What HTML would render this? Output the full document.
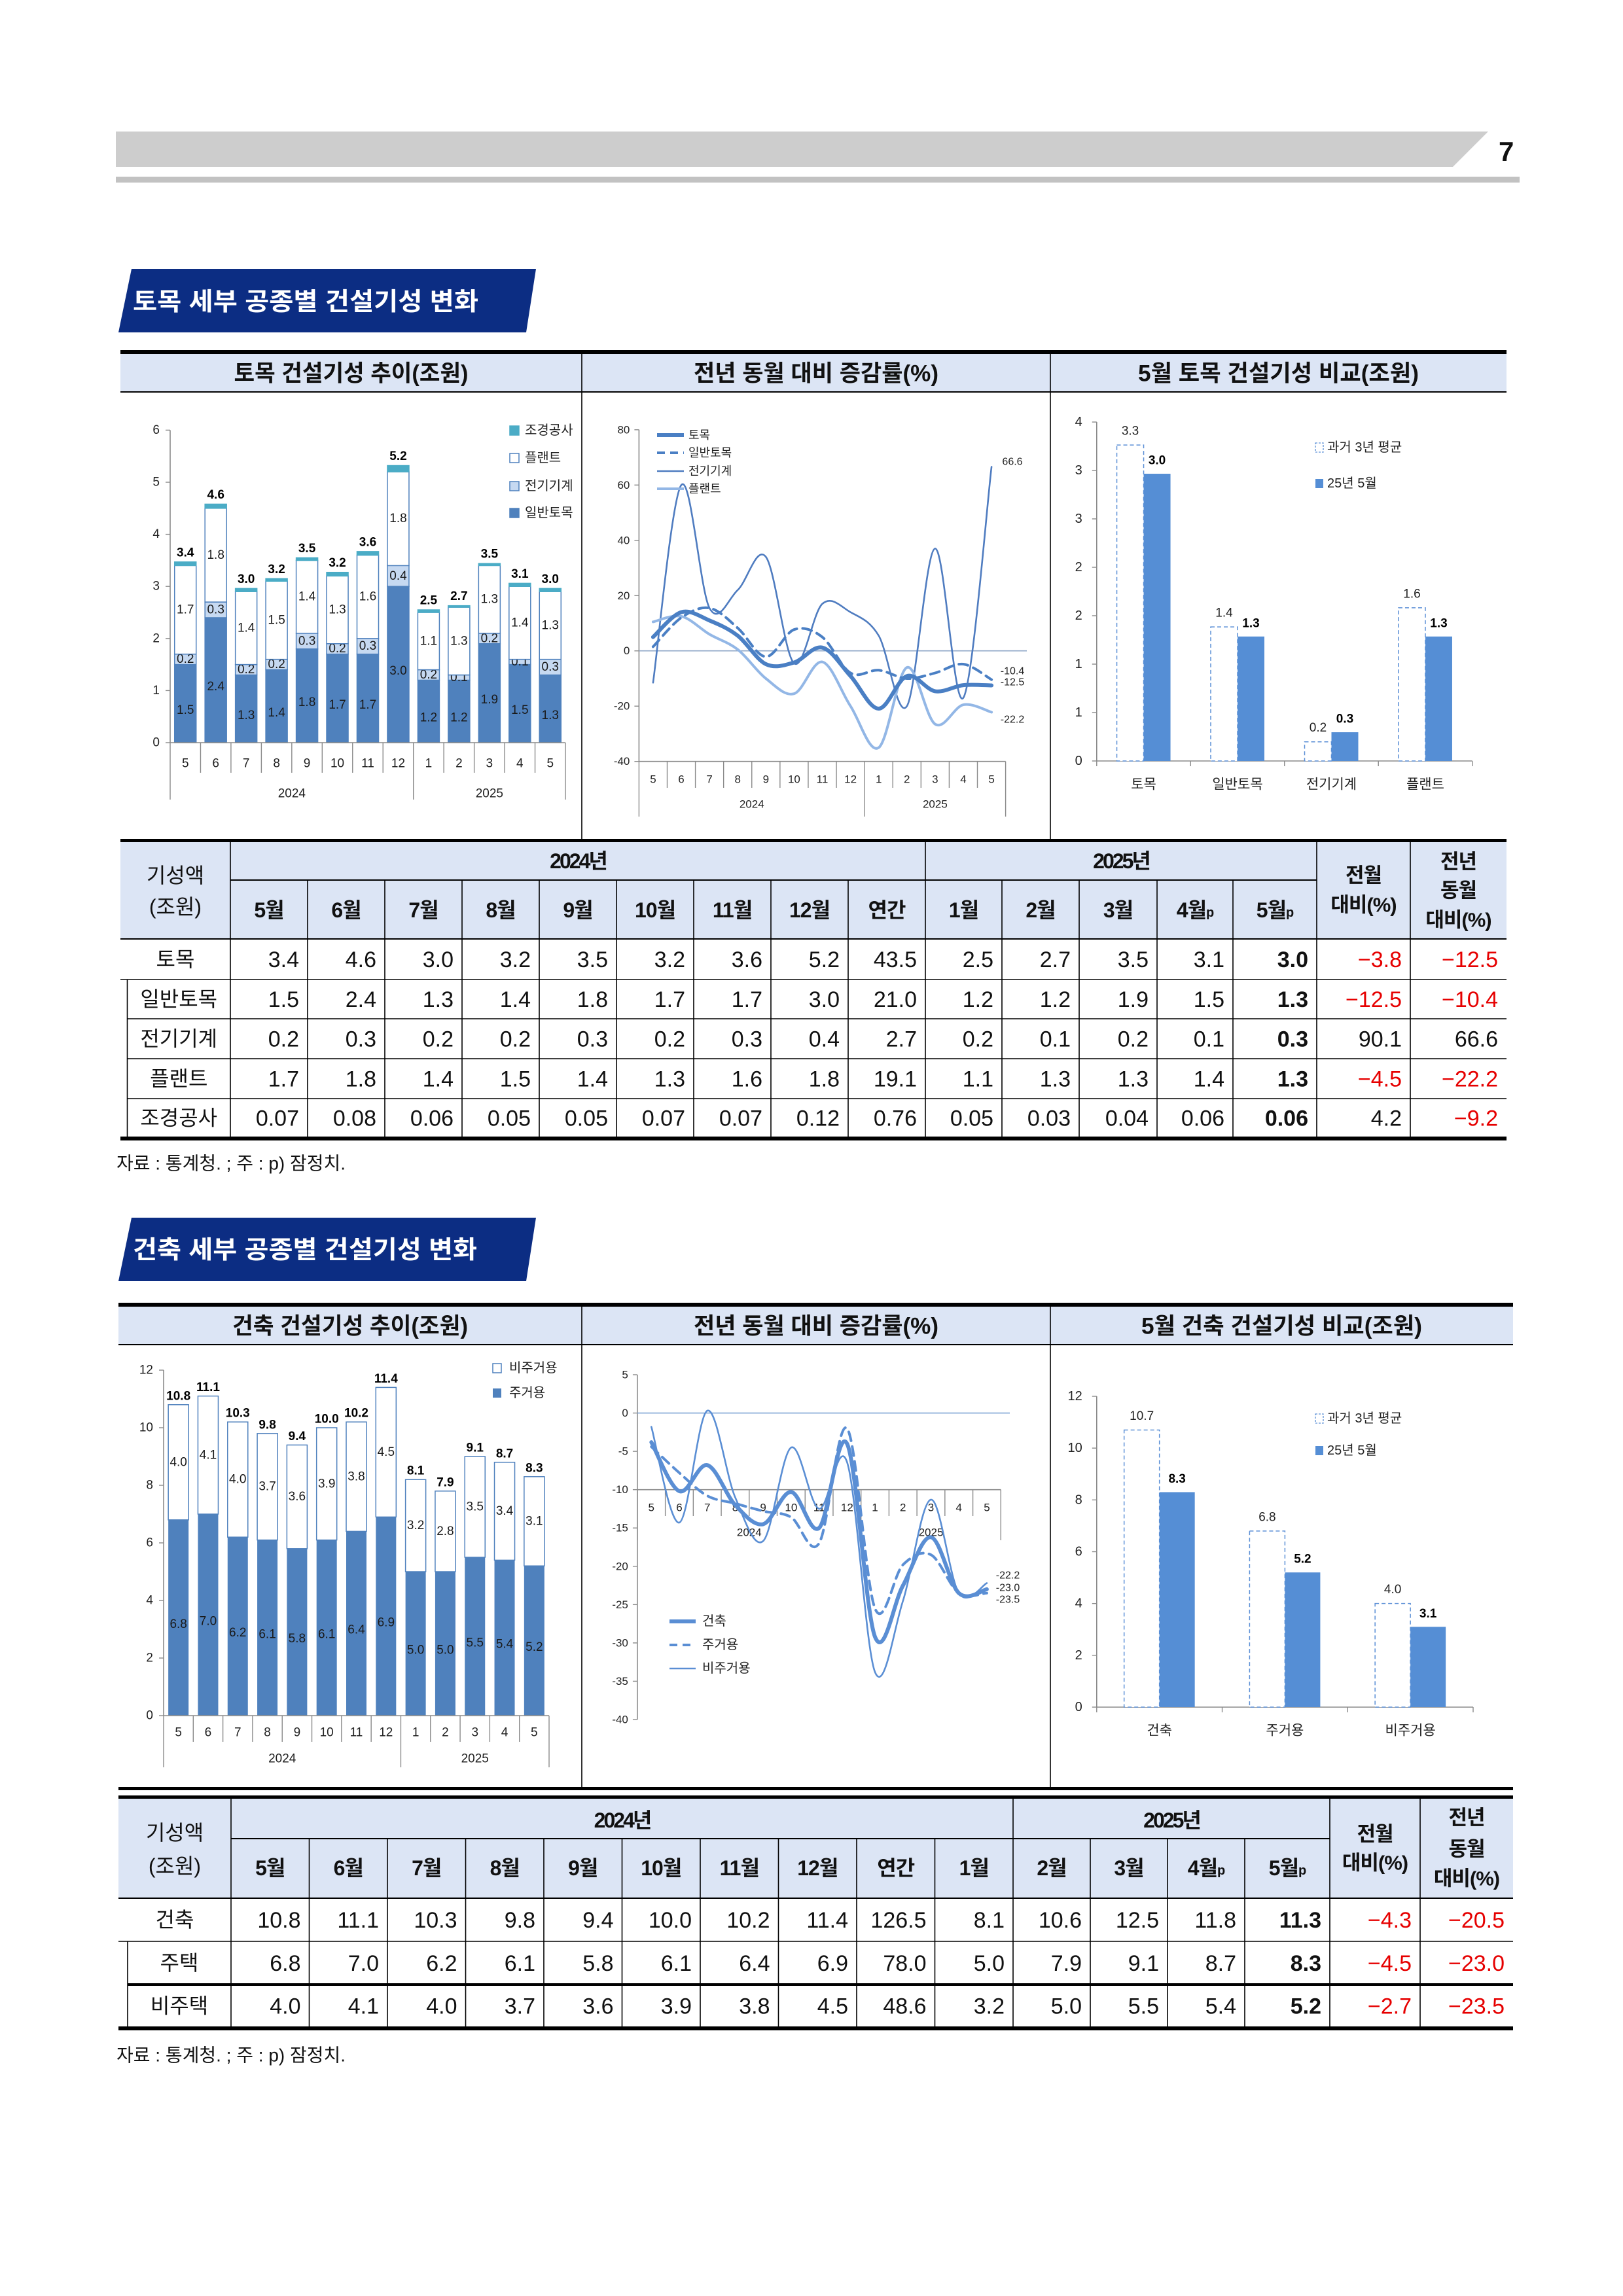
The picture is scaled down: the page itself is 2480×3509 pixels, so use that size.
<!DOCTYPE html>
<html lang="ko">
<head>
<meta charset="utf-8">
<title>토목·건축 세부 공종별 건설기성 변화</title>
<style>
html,body{margin:0;padding:0;background:#fff;}
body{width:2480px;height:3509px;position:relative;overflow:hidden;}
#page{position:absolute;left:0;top:0;font-family:"Liberation Sans","Noto Sans CJK KR",sans-serif;}
</style>
</head>
<body>
<svg id="page" xmlns="http://www.w3.org/2000/svg" width="2480" height="3509" viewBox="0 0 2480 3509">
  <rect x="0" y="0" width="2480" height="3509" fill="#ffffff"/>
  <polygon points="177,201 2274,201 2220,255 177,255" fill="#cdcdcd"/>
  <rect x="177" y="270" width="2145" height="9" fill="#c2c2c2"/>
  <text x="2290" y="246" font-size="42" font-weight="bold" fill="#111">7</text>

  <polygon points="201,411 819,411 804,508 181,508" fill="#0c2d83"/>
  <text x="203" y="474" font-size="38" font-weight="bold" fill="#fff" textLength="528" lengthAdjust="spacingAndGlyphs">토목 세부 공종별 건설기성 변화</text>

  <polygon points="201,1861 819,1861 804,1958 181,1958" fill="#0c2d83"/>
  <text x="203" y="1923" font-size="38" font-weight="bold" fill="#fff" textLength="526" lengthAdjust="spacingAndGlyphs">건축 세부 공종별 건설기성 변화</text>
</svg>
<script>
// ================= DATA =================
const months = ['5','6','7','8','9','10','11','12','1','2','3','4','5'];
const yearLabels = ['2024','2025'];
const yearSpans = [8, 5];

// chart 1: civil stacked bars (조원)
const c1General = [1.5,2.4,1.3,1.4,1.8,1.7,1.7,3.0,1.2,1.2,1.9,1.5,1.3];
const c1Elec    = [0.2,0.3,0.2,0.2,0.3,0.2,0.3,0.4,0.2,0.1,0.2,0.1,0.3];
const c1Plant   = [1.7,1.8,1.4,1.5,1.4,1.3,1.6,1.8,1.1,1.3,1.3,1.4,1.3];
const c1Land    = [0.07,0.08,0.06,0.05,0.05,0.07,0.07,0.12,0.05,0.03,0.04,0.06,0.06];
const c1Total   = [3.4,4.6,3.0,3.2,3.5,3.2,3.6,5.2,2.5,2.7,3.5,3.1,3.0];
const c1Ticks   = [0,1,2,3,4,5,6];
const c1Legend  = ['조경공사','플랜트','전기기계','일반토목'];

// chart 2: civil YoY (%)
const c2Civil   = [5,14,11,5.5,-4.8,-4.2,1.2,-9.1,-20.9,-9.1,-14.6,-12.4,-12.5];
const c2General = [1.5,12,15.5,8.3,-2.1,7.7,5,-8,-7,-10,-8,-4.8,-10.4];
const c2Elec    = [-11.5,60,15.5,22,34,-4.5,17,14,5.5,-20,37,-17,66.6];
const c2Plant   = [10.5,12.5,6,0.5,-10,-15.5,-4,-20,-35,-6,-26.5,-19.5,-22.2];
const c2Ticks   = [80,60,40,20,0,-20,-40];
const c2Legend  = ['토목','일반토목','전기기계','플랜트'];
const c2EndLabels = ['66.6','-10.4','-12.5','-22.2'];

// chart 3: May civil comparison
const c3Cats = ['토목','일반토목','전기기계','플랜트'];
const c3Avg  = [3.3,1.4,0.2,1.6];
const c3May  = [3.0,1.3,0.3,1.3];
const c3TickLabels = ['0','1','1','2','2','3','3','4'];
const c3AxisMax = 3.54;

// chart 4: building stacked bars
const c4Res    = [6.8,7.0,6.2,6.1,5.8,6.1,6.4,6.9,5.0,5.0,5.5,5.4,5.2];
const c4NonRes = [4.0,4.1,4.0,3.7,3.6,3.9,3.8,4.5,3.2,2.8,3.5,3.4,3.1];
const c4Total  = [10.8,11.1,10.3,9.8,9.4,10.0,10.2,11.4,8.1,7.9,9.1,8.7,8.3];
const c4Ticks  = [0,2,4,6,8,10,12];
const c4Legend = ['비주거용','주거용'];

// chart 5: building YoY
const c5Total = [-3.8,-10.2,-6.8,-12,-14.5,-10.3,-15,-4,-29.2,-22.5,-16.2,-23.5,-23.0];
const c5Res   = [-4.4,-7.8,-10.8,-11.8,-12.8,-13.6,-17,-2,-25.5,-19.8,-18.5,-23.5,-23.5];
const c5Non   = [-1.8,-14.3,0.3,-11,-16.7,-4.5,-12.5,-6.4,-33.8,-24.5,-11.3,-23.5,-22.2];
const c5Ticks = [5,0,-5,-10,-15,-20,-25,-30,-35,-40];
const c5Legend = ['건축','주거용','비주거용'];
const c5EndLabels = ['-22.2','-23.0','-23.5'];

// chart 6: May building comparison
const c6Cats = ['건축','주거용','비주거용'];
const c6Avg  = [10.7,6.8,4.0];
const c6May  = [8.3,5.2,3.1];
const c6Ticks = [0,2,4,6,8,10,12];

// table 1
const t1Head24 = ['5월','6월','7월','8월','9월','10월','11월','12월','연간'];
const t1Head25 = ['1월','2월','3월','4월','5월'];
const t1Rows = ['토목','일반토목','전기기계','플랜트','조경공사'];
const t1Vals = [
 ['3.4','4.6','3.0','3.2','3.5','3.2','3.6','5.2','43.5','2.5','2.7','3.5','3.1','3.0','−3.8','−12.5'],
 ['1.5','2.4','1.3','1.4','1.8','1.7','1.7','3.0','21.0','1.2','1.2','1.9','1.5','1.3','−12.5','−10.4'],
 ['0.2','0.3','0.2','0.2','0.3','0.2','0.3','0.4','2.7','0.2','0.1','0.2','0.1','0.3','90.1','66.6'],
 ['1.7','1.8','1.4','1.5','1.4','1.3','1.6','1.8','19.1','1.1','1.3','1.3','1.4','1.3','−4.5','−22.2'],
 ['0.07','0.08','0.06','0.05','0.05','0.07','0.07','0.12','0.76','0.05','0.03','0.04','0.06','0.06','4.2','−9.2']
];
// table 2
const t2Head24 = ['5월','6월','7월','8월','9월','10월','11월','12월','연간','1월'];
const t2Head25 = ['2월','3월','4월','5월'];
const t2Rows = ['건축','주택','비주택'];
const t2Vals = [
 ['10.8','11.1','10.3','9.8','9.4','10.0','10.2','11.4','126.5','8.1','10.6','12.5','11.8','11.3','−4.3','−20.5'],
 ['6.8','7.0','6.2','6.1','5.8','6.1','6.4','6.9','78.0','5.0','7.9','9.1','8.7','8.3','−4.5','−23.0'],
 ['4.0','4.1','4.0','3.7','3.6','3.9','3.8','4.5','48.6','3.2','5.0','5.5','5.4','5.2','−2.7','−23.5']
];

// ================= HELPERS =================
const NS = 'http://www.w3.org/2000/svg';
const svg = document.getElementById('page');
function mk(parent, tag, attrs, text) {
  const el = document.createElementNS(NS, tag);
  for (const k in attrs) el.setAttribute(k, attrs[k]);
  if (text !== undefined) el.textContent = text;
  parent.appendChild(el);
  return el;
}
function nm(el, name) {
  
  
  return el;
}
function grp(name) { return nm(mk(svg, 'g', {}), name); }
function line(g, x1, y1, x2, y2, stroke, w, name) {
  return nm(mk(g, 'line', {x1, y1, x2, y2, stroke, 'stroke-width': w}), name);
}
function txt(g, x, y, s, size, opts, name) {
  const a = Object.assign({x, y, 'font-size': size, fill: '#222', 'dominant-baseline': 'central', 'text-anchor': 'middle'}, opts || {});
  return nm(mk(g, 'text', a, s), name);
}
function smooth(pts) {
  let d = 'M' + pts[0][0].toFixed(1) + ',' + pts[0][1].toFixed(1);
  for (let i = 0; i < pts.length - 1; i++) {
    const p0 = pts[Math.max(i - 1, 0)], p1 = pts[i], p2 = pts[i + 1], p3 = pts[Math.min(i + 2, pts.length - 1)];
    const c1x = p1[0] + (p2[0] - p0[0]) / 6, c1y = p1[1] + (p2[1] - p0[1]) / 6;
    const c2x = p2[0] - (p3[0] - p1[0]) / 6, c2y = p2[1] - (p3[1] - p1[1]) / 6;
    d += ' C' + c1x.toFixed(1) + ',' + c1y.toFixed(1) + ' ' + c2x.toFixed(1) + ',' + c2y.toFixed(1) + ' ' + p2[0].toFixed(1) + ',' + p2[1].toFixed(1);
  }
  return d;
}
const AX = '#8a8a8a';

function catAxis(g, x0, x1, yA, sepB, yearB, labY, yrY, fs) {
  const n = months.length, band = (x1 - x0) / n;
  line(g, x0, yA, x1, yA, AX, 1.6, 'x-axis-line');
  const yearEdges = [0];
  let acc = 0;
  yearSpans.forEach(s => { acc += s; yearEdges.push(acc); });
  for (let k = 0; k <= n; k++) {
    const isYear = yearEdges.indexOf(k) >= 0;
    line(g, x0 + band * k, yA, x0 + band * k, isYear ? yearB : sepB, AX, 1.4, isYear ? 'year-separator' : 'category-separator');
  }
  months.forEach((m, i) => txt(g, x0 + band * (i + 0.5), labY, m, fs, {}, 'x-tick-label'));
  yearLabels.forEach((y, j) => {
    const c = (yearEdges[j] + yearEdges[j + 1]) / 2;
    txt(g, x0 + band * c, yrY, y, fs, {}, 'year-label');
  });
  return band;
}
function yAxis(g, x, yTop, yBot) {
  line(g, x, yTop, x, yBot, AX, 1.6, 'y-axis-line');
}

// ================= PANELS =================
function panel(top, headers, sepBottom, left, right, name) {
  const g = grp(name);
  nm(mk(g, 'rect', {x: left, y: top, width: right - left, height: 6, fill: '#000'}), 'panel-top-rule');
  nm(mk(g, 'rect', {x: left, y: top + 6, width: right - left, height: 58, fill: '#dce5f5'}), 'panel-header-band');
  line(g, left, top + 64, right, top + 64, '#000', 2, 'panel-header-rule');
  const seps = [left, 889, 1605, right];
  [889, 1605].forEach(x => line(g, x, top + 6, x, sepBottom, '#000', 1.6, 'panel-column-separator'));
  headers.forEach((h, i) => {
    txt(g, (seps[i] + seps[i + 1]) / 2, top + 36, h[0], 35, {'font-weight': 'bold', fill: '#111', textLength: h[1], lengthAdjust: 'spacingAndGlyphs'}, 'panel-header-title');
  });
}
panel(535, [['토목 건설기성 추이(조원)', 358], ['전년 동월 대비 증감률(%)', 374], ['5월 토목 건설기성 비교(조원)', 429]], 1282, 184, 2302, 'civil-chart-panel');
panel(1991, [['건축 건설기성 추이(조원)', 360], ['전년 동월 대비 증감률(%)', 374], ['5월 건축 건설기성 비교(조원)', 429]], 2733, 181, 2312, 'building-chart-panel');
(function(){ const g = grp('building-panel-bottom-rule'); nm(mk(g, 'rect', {x: 181, y: 2731, width: 2131, height: 5, fill: '#000'}), 'panel-bottom-rule'); })();

// ================= CHART 1 =================
(function(){
  const g = grp('civil-stacked-bar-chart');
  const x0 = 260, x1 = 864, y0 = 1135, pu = 79.6;
  const Y = v => y0 - v * pu;
  yAxis(g, x0, Y(6), y0);
  c1Ticks.forEach(t => {
    line(g, x0 - 7, Y(t), x0, Y(t), AX, 1.4, 'y-tick');
    txt(g, x0 - 16, Y(t), String(t), 19, {'text-anchor': 'end'}, 'y-tick-label');
  });
  const band = (x1 - x0) / months.length, bw = 33;
  months.forEach((m, i) => {
    const cx = x0 + band * (i + 0.5), bx = cx - bw / 2;
    let base = 0;
    const segs = [
      [c1General[i], '#4f81bd', '#4f81bd', 'bar-general-civil'],
      [c1Elec[i], '#c6d9f1', '#4f81bd', 'bar-electrical'],
      [c1Plant[i], '#ffffff', '#4f81bd', 'bar-plant'],
      [c1Land[i], '#4bacc6', '#4bacc6', 'bar-landscape']
    ];
    segs.forEach((s, k) => {
      const yTop = Y(base + s[0]), h = s[0] * pu;
      nm(mk(g, 'rect', {x: bx, y: yTop, width: bw, height: h, fill: s[1], stroke: s[2], 'stroke-width': 1.5}), s[3]);
      if (k < 3) txt(g, cx, yTop + h / 2 + (k === 0 ? 10 : 0), s[0].toFixed(1), 19, {fill: '#1a1a1a'}, 'segment-value-label');
      base += s[0];
    });
    txt(g, cx, Y(base) - 14, c1Total[i].toFixed(1), 19, {'font-weight': 'bold', fill: '#000'}, 'total-value-label');
  });
  catAxis(g, x0, x1, y0, 1181, 1222, 1167, 1213, 19);
  const lf = [['#4bacc6', '#4bacc6'], ['#fff', '#4f81bd'], ['#c6d9f1', '#4f81bd'], ['#4f81bd', '#4f81bd']];
  const ly = [658, 700, 743, 784];
  c1Legend.forEach((l, i) => {
    nm(mk(g, 'rect', {x: 779, y: ly[i] - 7, width: 14, height: 14, fill: lf[i][0], stroke: lf[i][1], 'stroke-width': 1.5}), 'legend-swatch');
    txt(g, 802, ly[i], l, 20, {'text-anchor': 'start'}, 'legend-label');
  });
})();

// ================= CHART 2 =================
(function(){
  const g = grp('civil-yoy-line-chart');
  const x0 = 976.4, x1 = 1536.6, yTop = 656.8, yBot = 1163.7;
  const Y = v => yTop + (80 - v) * (yBot - yTop) / 120;
  yAxis(g, x0, yTop, yBot);
  c2Ticks.forEach(t => {
    line(g, x0 - 7, Y(t), x0, Y(t), AX, 1.4, 'y-tick');
    txt(g, x0 - 14, Y(t), String(t), 17, {'text-anchor': 'end'}, 'y-tick-label');
  });
  line(g, x0, Y(0), 1569, Y(0), '#8ea6c6', 1.6, 'zero-line');
  const band = catAxis(g, x0, x1, yBot, 1204, 1248, 1191, 1229, 17);
  const X = i => x0 + band * (i + 0.5);
  const series = [
    [c2Elec, '#4f7cc0', 2.6, '', 'series-electrical'],
    [c2Plant, '#93b7e6', 4, '', 'series-plant'],
    [c2General, '#4a7fc4', 4, '14,9', 'series-general-civil'],
    [c2Civil, '#4a7fc4', 6, '', 'series-civil']
  ];
  series.forEach(s => {
    const pts = s[0].map((v, i) => [X(i), Y(v)]);
    const a = {d: smooth(pts), fill: 'none', stroke: s[1], 'stroke-width': s[2], 'stroke-linecap': 'round'};
    if (s[3]) a['stroke-dasharray'] = s[3];
    nm(mk(g, 'path', a), s[4]);
  });
  const ey = [706, 1026, 1043, 1100];
  c2EndLabels.forEach((l, i) => txt(g, 1547, ey[i], l, 16, {}, 'end-value-label'));
  const lg = [['#4a7fc4', 6, ''], ['#4a7fc4', 4, '12,8'], ['#4f7cc0', 2.6, ''], ['#93b7e6', 4, '']];
  const ly = [665, 692, 720, 747];
  c2Legend.forEach((l, i) => {
    const a = {x1: 1004, y1: ly[i], x2: 1045, y2: ly[i], stroke: lg[i][0], 'stroke-width': lg[i][1]};
    if (lg[i][2]) a['stroke-dasharray'] = lg[i][2];
    nm(mk(g, 'line', a), 'legend-line');
    txt(g, 1052, ly[i], l, 18, {'text-anchor': 'start'}, 'legend-label');
  });
})();

// ================= CHART 3 / 6 (comparison bars) =================
function compChart(name, cats, avg, may, tickLabels, tickVals, axisMax, x0, x1, yTop, y0, bw, legY, catY) {
  const g = grp(name);
  const Y = v => y0 - v / axisMax * (y0 - yTop);
  yAxis(g, x0, yTop, y0);
  tickLabels.forEach((t, i) => {
    const yy = Y(tickVals[i]);
    line(g, x0 - 7, yy, x0, yy, AX, 1.4, 'y-tick');
    txt(g, x0 - 22, yy, t, 20, {'text-anchor': 'end'}, 'y-tick-label');
  });
  line(g, x0, y0, x1, y0, AX, 1.6, 'x-axis-line');
  const band = (x1 - x0) / cats.length;
  for (let k = 0; k <= cats.length; k++) line(g, x0 + band * k, y0, x0 + band * k, y0 + 8, AX, 1.4, 'x-tick');
  cats.forEach((c, i) => {
    const cx = x0 + band * (i + 0.5);
    nm(mk(g, 'rect', {x: cx - bw, y: Y(avg[i]), width: bw, height: y0 - Y(avg[i]), fill: '#fff', stroke: '#5b8fd6', 'stroke-width': 1.5, 'stroke-dasharray': '6,4'}), 'bar-3yr-average');
    nm(mk(g, 'rect', {x: cx, y: Y(may[i]), width: bw, height: y0 - Y(may[i]), fill: '#558ed5'}), 'bar-may-2025');
    txt(g, cx - bw / 2, Y(avg[i]) - 21, avg[i].toFixed(1), 19, {}, 'avg-value-label');
    txt(g, cx + bw / 2, Y(may[i]) - 20, may[i].toFixed(1), 19, {'font-weight': 'bold', fill: '#000'}, 'may-value-label');
    txt(g, cx, catY, c, 21, {}, 'x-category-label');
  });
  nm(mk(g, 'rect', {x: 2010, y: legY[0] - 7, width: 12, height: 14, fill: '#fff', stroke: '#5b8fd6', 'stroke-width': 1.3, 'stroke-dasharray': '3,2'}), 'legend-swatch-average');
  txt(g, 2028, legY[0], '과거 3년 평균', 20, {'text-anchor': 'start'}, 'legend-label');
  nm(mk(g, 'rect', {x: 2010, y: legY[1] - 7, width: 12, height: 14, fill: '#558ed5'}), 'legend-swatch-may');
  txt(g, 2028, legY[1], '25년 5월', 20, {'text-anchor': 'start'}, 'legend-label');
}
compChart('civil-may-comparison-chart', c3Cats, c3Avg, c3May, c3TickLabels,
  c3TickLabels.map((t, i) => i * c3AxisMax / (c3TickLabels.length - 1)), c3AxisMax, 1675.8, 2249.7, 645, 1163, 41, [684, 739], 1199);
compChart('building-may-comparison-chart', c6Cats, c6Avg, c6May, c6Ticks.map(String), c6Ticks, 12, 1675.8, 2251, 2134, 2609, 54, [2168, 2217], 2645);

// ================= CHART 4 =================
(function(){
  const g = grp('building-stacked-bar-chart');
  const x0 = 250, x1 = 839, y0 = 2622, pu = 44.0;
  const Y = v => y0 - v * pu;
  yAxis(g, x0, Y(12), y0);
  c4Ticks.forEach(t => {
    line(g, x0 - 7, Y(t), x0, Y(t), AX, 1.4, 'y-tick');
    txt(g, x0 - 16, Y(t), String(t), 19, {'text-anchor': 'end'}, 'y-tick-label');
  });
  const band = (x1 - x0) / months.length, bw = 31;
  months.forEach((m, i) => {
    const cx = x0 + band * (i + 0.5), bx = cx - bw / 2;
    nm(mk(g, 'rect', {x: bx, y: Y(c4Res[i]), width: bw, height: c4Res[i] * pu, fill: '#4f81bd'}), 'bar-residential');
    txt(g, cx, Y(c4Res[i] / 2) + 10, c4Res[i].toFixed(1), 19, {fill: '#1a1a1a'}, 'segment-value-label');
    const top = c4Res[i] + c4NonRes[i];
    nm(mk(g, 'rect', {x: bx, y: Y(top), width: bw, height: c4NonRes[i] * pu, fill: '#fff', stroke: '#4f81bd', 'stroke-width': 1.5}), 'bar-non-residential');
    txt(g, cx, Y(c4Res[i] + c4NonRes[i] / 2), c4NonRes[i].toFixed(1), 19, {fill: '#1a1a1a'}, 'segment-value-label');
    txt(g, cx, Y(top) - 13, c4Total[i].toFixed(1), 19, {'font-weight': 'bold', fill: '#000'}, 'total-value-label');
  });
  catAxis(g, x0, x1, y0, 2662, 2701, 2648, 2688, 19);
  nm(mk(g, 'rect', {x: 753, y: 2084, width: 13, height: 14, fill: '#fff', stroke: '#4f81bd', 'stroke-width': 1.5}), 'legend-swatch');
  txt(g, 778, 2091, c4Legend[0], 20, {'text-anchor': 'start'}, 'legend-label');
  nm(mk(g, 'rect', {x: 753, y: 2122, width: 13, height: 14, fill: '#4f81bd'}), 'legend-swatch');
  txt(g, 778, 2129, c4Legend[1], 20, {'text-anchor': 'start'}, 'legend-label');
})();

// ================= CHART 5 =================
(function(){
  const g = grp('building-yoy-line-chart');
  const x0 = 973.9, x1 = 1529.3, yTop = 2101, yBot = 2628;
  const Y = v => yTop + (5 - v) * (yBot - yTop) / 45;
  yAxis(g, x0, yTop, yBot);
  c5Ticks.forEach(t => {
    line(g, x0 - 7, Y(t), x0, Y(t), AX, 1.4, 'y-tick');
    txt(g, x0 - 14, Y(t), String(t), 17, {'text-anchor': 'end'}, 'y-tick-label');
  });
  line(g, x0, Y(0), 1543, Y(0), '#7ea3d4', 1.6, 'zero-line');
  const band = catAxis(g, x0, x1, Y(-10), 2317, 2354, 2304, 2342, 17);
  const X = i => x0 + band * (i + 0.5);
  const series = [
    [c5Non, '#5a8ed4', 2.6, '', 'series-non-residential'],
    [c5Res, '#5a8ed4', 4, '14,9', 'series-residential'],
    [c5Total, '#5a8ed4', 6, '', 'series-building']
  ];
  series.forEach(s => {
    const pts = s[0].map((v, i) => [X(i), Y(v)]);
    const a = {d: smooth(pts), fill: 'none', stroke: s[1], 'stroke-width': s[2], 'stroke-linecap': 'round'};
    if (s[3]) a['stroke-dasharray'] = s[3];
    nm(mk(g, 'path', a), s[4]);
  });
  const ey = [2408, 2427, 2445];
  c5EndLabels.forEach((l, i) => txt(g, 1540, ey[i], l, 16, {}, 'end-value-label'));
  const lg = [[6, ''], [4, '12,8'], [2.6, '']];
  const ly = [2478, 2514, 2550];
  c5Legend.forEach((l, i) => {
    const a = {x1: 1023, y1: ly[i], x2: 1063, y2: ly[i], stroke: '#5a8ed4', 'stroke-width': lg[i][0]};
    if (lg[i][1]) a['stroke-dasharray'] = lg[i][1];
    nm(mk(g, 'line', a), 'legend-line');
    txt(g, 1073, ly[i], l, 20, {'text-anchor': 'start'}, 'legend-label');
  });
})();

// ================= TABLES =================
function table(name, X, topT, h1b, h2b, rowE, head24, head25, rows, vals, labY, sepLeft, thickAfter) {
  const g = grp(name);
  const L = X[0], R = X[X.length - 1], n = X.length - 1;
  nm(mk(g, 'rect', {x: L, y: topT, width: R - L, height: 5, fill: '#000'}), 'table-top-rule');
  const hT = topT + 5;
  nm(mk(g, 'rect', {x: L, y: hT, width: R - L, height: h2b - hT, fill: '#dce5f5'}), 'table-header-band');
  const n24 = head24.length, n25 = head25.length;
  line(g, X[1], h1b, X[1 + n24 + n25], h1b, '#000', 2, 'header-divider');
  line(g, L, h2b, R, h2b, '#000', 2, 'header-bottom-rule');
  const full = [1, 1 + n24, 1 + n24 + n25, 2 + n24 + n25];
  for (let k = 1; k < n; k++) {
    line(g, X[k], full.indexOf(k) >= 0 ? hT : h1b, X[k], rowE[rowE.length - 1], '#000', 1.6, 'column-rule');
  }
  txt(g, (X[0] + X[1]) / 2, labY[0], '기성액', 32, {fill: '#111'}, 'header-unit-label');
  txt(g, (X[0] + X[1]) / 2, labY[1], '(조원)', 32, {fill: '#111'}, 'header-unit-label');
  txt(g, (X[1] + X[1 + n24]) / 2, labY[2], '2024년', 32, {'font-weight': 'bold', fill: '#111', 'letter-spacing': '-3'}, 'header-year-2024');
  txt(g, (X[1 + n24] + X[1 + n24 + n25]) / 2, labY[2], '2025년', 32, {'font-weight': 'bold', fill: '#111', 'letter-spacing': '-3'}, 'header-year-2025');
  const heads = head24.concat(head25);
  heads.forEach((h, i) => {
    const t = txt(g, (X[1 + i] + X[2 + i]) / 2, labY[3], h, 32, {'font-weight': 'bold', fill: '#111', 'letter-spacing': '-1'}, 'header-month');
    if (i >= heads.length - 2) nm(mk(t, 'tspan', {'font-size': 20, dy: 4}, 'p'), 'provisional-mark');
  });
  const cA = (X[n - 1] + X[n]) / 2, cB = (X[n - 2] + X[n - 1]) / 2;
  labY[4].forEach((yy, i) => txt(g, cB, yy, ['전월', '대비(%)'][i], 31, {'font-weight': 'bold', fill: '#111', 'letter-spacing': '-1'}, 'header-mom'));
  labY[5].forEach((yy, i) => txt(g, cA, yy, ['전년', '동월', '대비(%)'][i], 31, {'font-weight': 'bold', fill: '#111', 'letter-spacing': '-1'}, 'header-yoy'));
  for (let r = 1; r < rowE.length - 1; r++) {
    line(g, r === 1 ? L : sepLeft, rowE[r], R, rowE[r], '#000', r === thickAfter ? 4 : 1.6, 'row-rule');
  }
  line(g, sepLeft, rowE[1], sepLeft, rowE[rowE.length - 1], '#000', 1.6, 'sub-row-indent-rule');
  nm(mk(g, 'rect', {x: L, y: rowE[rowE.length - 1] - 1, width: R - L, height: 6, fill: '#000'}), 'table-bottom-rule');
  rows.forEach((rn, r) => {
    const cy = (rowE[r] + rowE[r + 1]) / 2;
    const lx = r === 0 ? (L + X[1]) / 2 : (sepLeft + X[1]) / 2;
    txt(g, lx, cy, rn, 32, {fill: '#111'}, 'row-label');
    vals[r].forEach((v, c) => {
      const neg = v.indexOf('−') === 0;
      const bold = c === n24 + n25 - 1;
      const o = {'text-anchor': 'end', fill: neg ? '#e60000' : '#111'};
      if (bold) o['font-weight'] = 'bold';
      txt(g, X[c + 2] - 13, cy + 1, v, 34, o, 'cell-value');
    });
  });
}
table('civil-construction-table',
  [184,352,470,588,706,824,942,1060,1178,1296,1414,1531,1649,1768,1884,2012,2155,2302],
  1282, 1345, 1435, [1435,1497,1557,1618,1679,1738],
  t1Head24, t1Head25, t1Rows, t1Vals,
  [1338, 1386, 1316, 1391, [1338, 1383], [1317, 1361, 1406]], 194.5, -1);
table('building-construction-table',
  [181,353,472.5,592,711.5,831,950.5,1070,1189.5,1309,1428.5,1548,1666,1784,1902,2032,2170,2312],
  2744, 2810, 2901, [2901,2967,3033,3098],
  t2Head24, t2Head25, t2Rows, t2Vals,
  [2801, 2852, 2782, 2855, [2803, 2847], [2778, 2826, 2871]], 195, 2);

(function(){
  const g = grp('footnotes');
  txt(g, 178, 1778, '자료 : 통계청. ; 주 : p) 잠정치.', 28, {'text-anchor': 'start', fill: '#111'}, 'civil-table-footnote');
  txt(g, 178, 3141, '자료 : 통계청. ; 주 : p) 잠정치.', 28, {'text-anchor': 'start', fill: '#111'}, 'building-table-footnote');
})();
</script>
</body>
</html>
